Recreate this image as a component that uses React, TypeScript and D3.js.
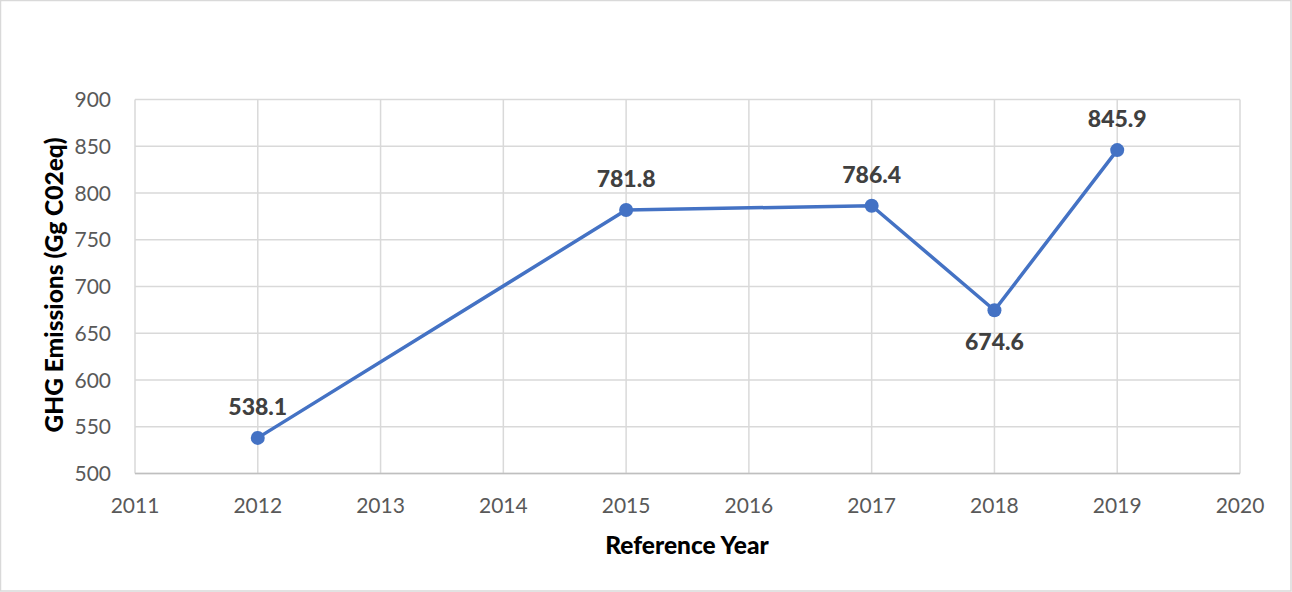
import React from "react";
import * as d3 from "d3";

const years = [2012, 2015, 2017, 2018, 2019];
const emissions = [538.1, 781.8, 786.4, 674.6, 845.9];
const labelBelow = [false, false, false, true, false];
const xTicks = [2011, 2012, 2013, 2014, 2015, 2016, 2017, 2018, 2019, 2020];
const yTicks = [500, 550, 600, 650, 700, 750, 800, 850, 900];
const xTitle = "Reference Year";
const yTitle = "GHG Emissions (Gg C02eq)";

const W = 1292;
const H = 592;
const m = { left: 135, right: 1240, top: 99.5, bottom: 473.5 };
const FONT = "Lato, 'Open Sans', sans-serif";

export default function App() {
  const x = d3.scaleLinear().domain([2011, 2020]).range([m.left, m.right]);
  const y = d3.scaleLinear().domain([500, 900]).range([m.bottom, m.top]);
  const line = d3
    .line<number>()
    .x((_, i) => x(years[i]))
    .y((d) => y(d));
  const pts = emissions.map((v, i) => ({ v, yr: years[i], below: labelBelow[i] }));

  return (
    <svg
      width={W}
      height={H}
      style={{ position: "absolute", left: 0, top: 0, background: "#fff" }}
      fontFamily={FONT}
    >
      <rect x={0.5} y={0.5} width={W - 1.5} height={H - 1.5} fill="#fff" stroke="#d9d9d9" strokeWidth={1.5} />
      {yTicks.map((t) => (
        <line key={"gy" + t} x1={m.left} x2={m.right} y1={y(t)} y2={y(t)} stroke="#d9d9d9" strokeWidth={1.5} />
      ))}
      {xTicks.map((t) => (
        <line key={"gx" + t} x1={x(t)} x2={x(t)} y1={m.top} y2={m.bottom} stroke="#d9d9d9" strokeWidth={1.5} />
      ))}
      <line x1={m.left} x2={m.right} y1={m.bottom} y2={m.bottom} stroke="#bfbfbf" strokeWidth={1.5} />
      {yTicks.map((t) => (
        <text key={"ty" + t} x={m.left - 24} y={y(t)} dy="0.36em" textAnchor="end" fontSize={21} fill="#595959">
          {t}
        </text>
      ))}
      {xTicks.map((t) => (
        <text key={"tx" + t} x={x(t)} y={505} dy="0.36em" textAnchor="middle" fontSize={21} fill="#595959">
          {t}
        </text>
      ))}
      <path d={line(emissions) || ""} fill="none" stroke="#4472C4" strokeWidth={3.5} strokeLinejoin="round" />
      {pts.map((p) => (
        <circle key={"c" + p.yr} cx={x(p.yr)} cy={y(p.v)} r={7} fill="#4472C4" />
      ))}
      {pts.map((p) => (
        <text
          key={"l" + p.yr}
          x={x(p.yr)}
          y={y(p.v) + (p.below ? 31 : -31)}
          dy="0.36em"
          textAnchor="middle"
          fontSize={23}
          fontWeight={900}
          fill="#404040"
        >
          {p.v.toFixed(1)}
        </text>
      ))}
      <text x={687} y={545} dy="0.36em" textAnchor="middle" fontSize={24.5} fontWeight={900} fill="#000">
        {xTitle}
      </text>
      <text
        transform={`translate(54,285) rotate(-90)`}
        dy="0.36em"
        textAnchor="middle"
        fontSize={24.5}
        fontWeight={900}
        fill="#000"
      >
        {yTitle}
      </text>
    </svg>
  );
}
